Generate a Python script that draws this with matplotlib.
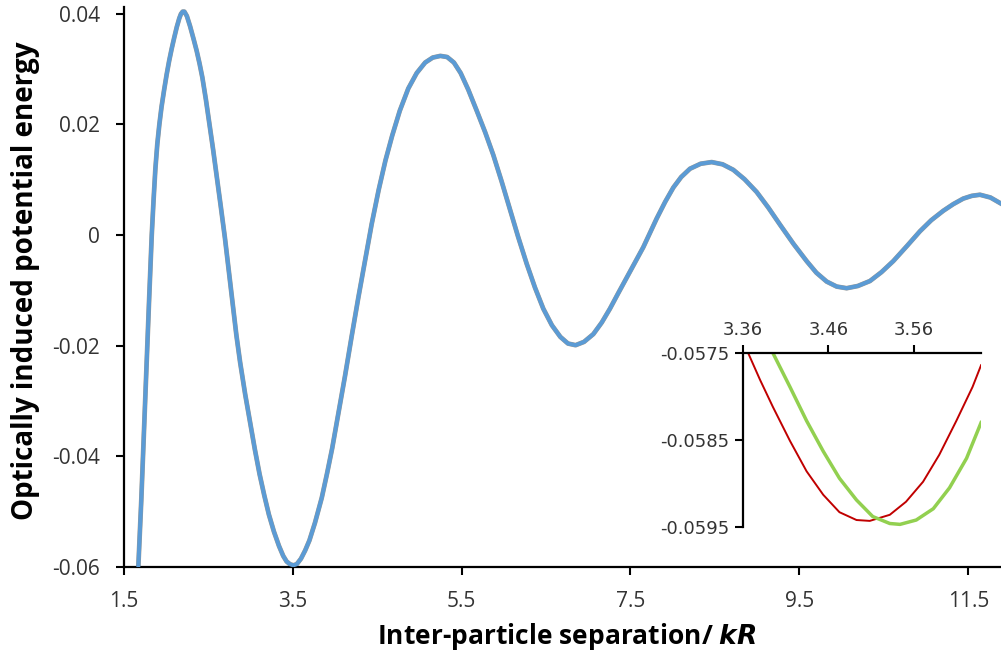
import numpy as np
import matplotlib
matplotlib.use("Agg")
from matplotlib import pyplot as plt

# optically induced potential energy vs separation kR
kr = [1.675, 1.71, 1.74, 1.77, 1.802, 1.834, 1.855, 1.877, 1.90, 1.924,
      1.95, 1.98, 2.01, 2.04, 2.07, 2.10, 2.13, 2.16, 2.18, 2.20,
      2.22, 2.25, 2.287, 2.33, 2.366, 2.40, 2.433, 2.475, 2.52, 2.56,
      2.60, 2.65, 2.70, 2.745, 2.79, 2.835, 2.88, 2.94, 3.00, 3.055,
      3.11, 3.165, 3.22, 3.28, 3.34, 3.39, 3.43, 3.47, 3.51, 3.55,
      3.60, 3.65, 3.70, 3.766, 3.846, 3.91, 3.97, 4.04, 4.121, 4.20,
      4.279, 4.36, 4.437, 4.52, 4.60, 4.68, 4.77, 4.87, 4.97, 5.07,
      5.16, 5.25, 5.33, 5.41, 5.49, 5.58, 5.68, 5.78, 5.876, 5.975,
      6.074, 6.17, 6.272, 6.37, 6.468, 6.57, 6.67, 6.76, 6.85, 6.95,
      7.06, 7.16, 7.257, 7.355, 7.455, 7.55, 7.651, 7.73, 7.81, 7.91,
      8.007, 8.10, 8.204, 8.33, 8.461, 8.59, 8.717, 8.85, 8.993, 9.13,
      9.269, 9.43, 9.585, 9.70, 9.822, 9.94, 10.058, 10.19, 10.334, 10.47,
      10.61, 10.77, 10.926, 11.06, 11.202, 11.32, 11.438, 11.54, 11.636, 11.76,
      11.885]
energy = [-0.0600, -0.0480, -0.0361, -0.0240, -0.0120, 0.0000, 0.0062, 0.0120, 0.0165, 0.0200,
          0.0232, 0.0262, 0.0290, 0.0315, 0.0337, 0.0357, 0.0376, 0.0392, 0.0400, 0.0404,
          0.0404, 0.0396, 0.0378, 0.0354, 0.0333, 0.0310, 0.0285, 0.0245, 0.0198, 0.0155,
          0.0110, 0.0053, -0.0005, -0.0063, -0.0122, -0.0180, -0.0230, -0.0288, -0.0340, -0.0388,
          -0.0432, -0.0470, -0.0505, -0.0536, -0.0562, -0.0580, -0.0590, -0.0595, -0.0597, -0.0595,
          -0.0585, -0.0570, -0.0552, -0.0520, -0.0475, -0.0430, -0.0385, -0.0325, -0.0255, -0.0183,
          -0.0113, -0.0045, 0.0020, 0.0082, 0.0135, 0.0180, 0.0225, 0.0265, 0.0293, 0.0312,
          0.0321, 0.0324, 0.0322, 0.0312, 0.0293, 0.0263, 0.0225, 0.0186, 0.0145, 0.0097,
          0.0046, -0.0003, -0.0052, -0.0095, -0.0133, -0.0163, -0.0184, -0.0196, -0.0199, -0.0193,
          -0.0179, -0.0158, -0.0133, -0.0105, -0.0077, -0.0050, -0.0022, 0.0004, 0.0030, 0.0060,
          0.0086, 0.0105, 0.0120, 0.0129, 0.0132, 0.0128, 0.0118, 0.0101, 0.0078, 0.0050,
          0.0019, -0.0016, -0.0047, -0.0068, -0.0084, -0.0093, -0.0096, -0.0092, -0.0083, -0.0067,
          -0.0047, -0.0020, 0.0007, 0.0027, 0.0044, 0.0056, 0.0066, 0.0071, 0.0073, 0.0068,
          0.0057]

# close-up of the first minimum, two models
zoom_x_a = [3.366, 3.380, 3.395, 3.415, 3.4345, 3.454, 3.473, 3.493, 3.5085, 3.532,
            3.551, 3.571, 3.590, 3.610, 3.629, 3.639]
zoom_y_a = [-0.05750, -0.05781, -0.05812, -0.05851, -0.05886, -0.05913, -0.05933, -0.05942, -0.05943, -0.05936,
            -0.05921, -0.05898, -0.05867, -0.05828, -0.05789, -0.05764]
zoom_x_b = [3.395, 3.415, 3.4345, 3.454, 3.473, 3.493, 3.512, 3.532, 3.544, 3.563,
            3.583, 3.602, 3.622, 3.639]
zoom_y_b = [-0.05750, -0.05789, -0.05828, -0.05863, -0.05894, -0.05919, -0.05938, -0.05946, -0.05947, -0.05942,
            -0.05929, -0.05905, -0.05871, -0.05830]

main_xticks = [1.5, 3.5, 5.5, 7.5, 9.5, 11.5]
main_yticks = [-0.06, -0.04, -0.02, 0, 0.02, 0.04]
main_yticklabels = ["-0.06", "-0.04", "-0.02", "0", "0.02", "0.04"]
zoom_xticks = [3.36, 3.46, 3.56]
zoom_yticks = [-0.0595, -0.0585, -0.0575]

plt.rcParams['font.family'] = ['Open Sans', 'DejaVu Sans']
TXT = '#333333'

fig = plt.figure(figsize=(10.01, 6.57), dpi=100)
ax = fig.add_axes([0.1234, 0.137, 0.8766, 0.852])

ax.plot(kr, energy, color='#A09A90', lw=3.4, solid_joinstyle='round', zorder=2)
ax.plot(kr, energy, color='#5B9BD5', lw=2.9, solid_joinstyle='round', zorder=3)

ax.set_xlim(1.5, 11.885)
ax.set_ylim(-0.06, 0.0412)
ax.set_xticks(main_xticks)
ax.set_xticklabels([str(t) for t in main_xticks])
ax.set_yticks(main_yticks)
ax.set_yticklabels(main_yticklabels)
for s in ['top', 'right']:
    ax.spines[s].set_visible(False)
for s in ['left', 'bottom']:
    ax.spines[s].set_linewidth(1.6)
ax.tick_params(direction='out', length=6, width=1.5, labelsize=15, labelcolor=TXT)
ax.tick_params(axis='y', pad=11)
ax.tick_params(axis='x', pad=11)

ax.set_xlabel("Inter-particle separation/ $\\mathbfit{kR}$", fontsize=19, fontweight='bold')
ax.set_ylabel("Optically induced potential energy", fontsize=20, fontweight='bold')
ax.xaxis.set_label_coords(0.505, -0.125)
ax.yaxis.set_label_coords(-0.112, 0.512)
ax.xaxis.label.set_va('center')
ax.yaxis.label.set_va('center')

# inset
axi = fig.add_axes([0.7423, 0.1979, 0.2378, 0.2648])
axi.plot(zoom_x_a, zoom_y_a, color='#C00000', lw=1.4)
axi.plot(zoom_x_b, zoom_y_b, color='#92D050', lw=2.5)
axi.set_xlim(3.36, 3.639)
axi.set_ylim(-0.0595, -0.0575)
axi.xaxis.tick_top()
axi.set_xticks(zoom_xticks)
axi.set_xticklabels(["3.36", "3.46", "3.56"])
axi.set_yticks(zoom_yticks)
axi.set_yticklabels(["-0.0595", "-0.0585", "-0.0575"])
for s in ['bottom', 'right']:
    axi.spines[s].set_visible(False)
for s in ['left', 'top']:
    axi.spines[s].set_linewidth(1.6)
axi.tick_params(direction='out', length=6, width=1.5, labelsize=13, labelcolor=TXT, pad=4)
for lab in axi.get_xticklabels() + axi.get_yticklabels():
    lab.set_family('DejaVu Sans')
axi.patch.set_alpha(0)

fig.savefig("out.png", dpi=100)
